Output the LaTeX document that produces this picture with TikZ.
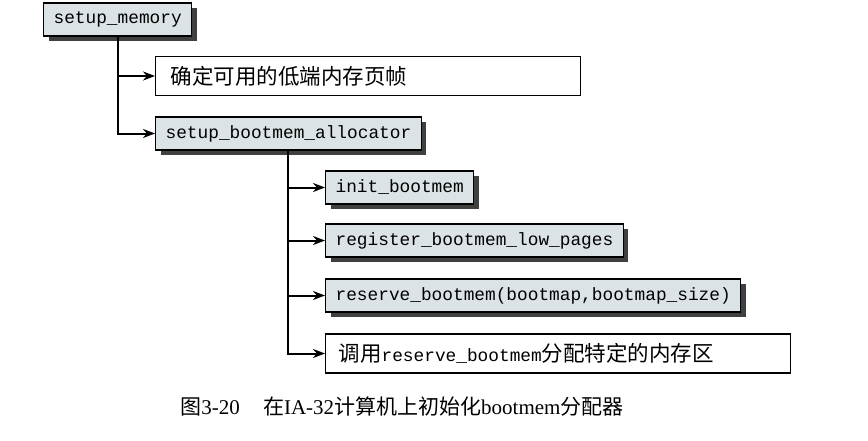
\documentclass[tikz,border=0pt]{standalone}
\usepackage{fontspec}
\setmainfont{Liberation Serif}
\newfontfamily\mono{Liberation Mono}
\newfontfamily\cjk{Noto Sans CJK SC}
\usepackage{tikz}
\usetikzlibrary{positioning, arrows.meta, shadows}
\definecolor{boxgray}{RGB}{220, 227, 231}
\definecolor{shadowgray}{RGB}{64, 64, 64}
\tikzset{
  fnbox/.style={
    draw=black, line width=1.2pt, fill=boxgray,
    font=\fontsize{17.8}{20}\mono,
    inner xsep=10pt, inner ysep=0pt, minimum height=33pt,
    anchor=west,
    drop shadow={shadow xshift=5pt, shadow yshift=-5pt,
                 fill=shadowgray, opacity=1},
  },
  notebox/.style={
    draw=black, line width=1.2pt, fill=white,
    font=\fontsize{21.5}{24}\cjk,
    inner xsep=15pt, inner ysep=0pt, minimum height=39pt,
    align=left, anchor=west,
  },
  call/.style={draw=black, line width=2pt,
    -{Stealth[length=12pt, width=9pt]}},
  capt/.style={font=\fontsize{21}{24}\selectfont},
}
\newcommand{\fn}[1]{{\fontsize{17.8}{20}\mono #1}}

\begin{document}
\begin{tikzpicture}[x=1pt, y=-1pt]
\useasboundingbox (0,0) rectangle (868,440);

\node[fnbox] (mem) at (43,19.5) {setup\_memory};
\node[notebox, text width=395pt] (lowmem) at (155,76) {确定可用的低端内存页帧};
\node[fnbox] (alloc) at (155,133.5) {setup\_bootmem\_allocator};

\node[fnbox] (init) at (325,187.5) {init\_bootmem};
\node[fnbox] (lowpg) at (325,240.5) {register\_bootmem\_low\_pages};
\node[fnbox] (resv) at (325,295.5) {reserve\_bootmem(bootmap,bootmap\_size)};
\node[notebox, text width=439pt, inner xsep=13pt] (resvnote) at (325,353.5)
  {调用\fn{reserve\_bootmem}分配特定的内存区};

% Aufrufbaum
\draw[call] (mem.south) |- (lowmem.west);
\draw[call] (mem.south) |- (alloc.west);
\draw[call] (alloc.south) |- (init.west);
\draw[call] (alloc.south) |- (lowpg.west);
\draw[call] (alloc.south) |- (resv.west);
\draw[call] (alloc.south) |- (resvnote.west);

\node[capt] (caption) at (402,406)
  {{\cjk 图}3-20\hspace{1.1em}{\cjk 在}IA-32{\cjk 计算机上初始化}bootmem{\cjk 分配器}};

\end{tikzpicture}
\end{document}
